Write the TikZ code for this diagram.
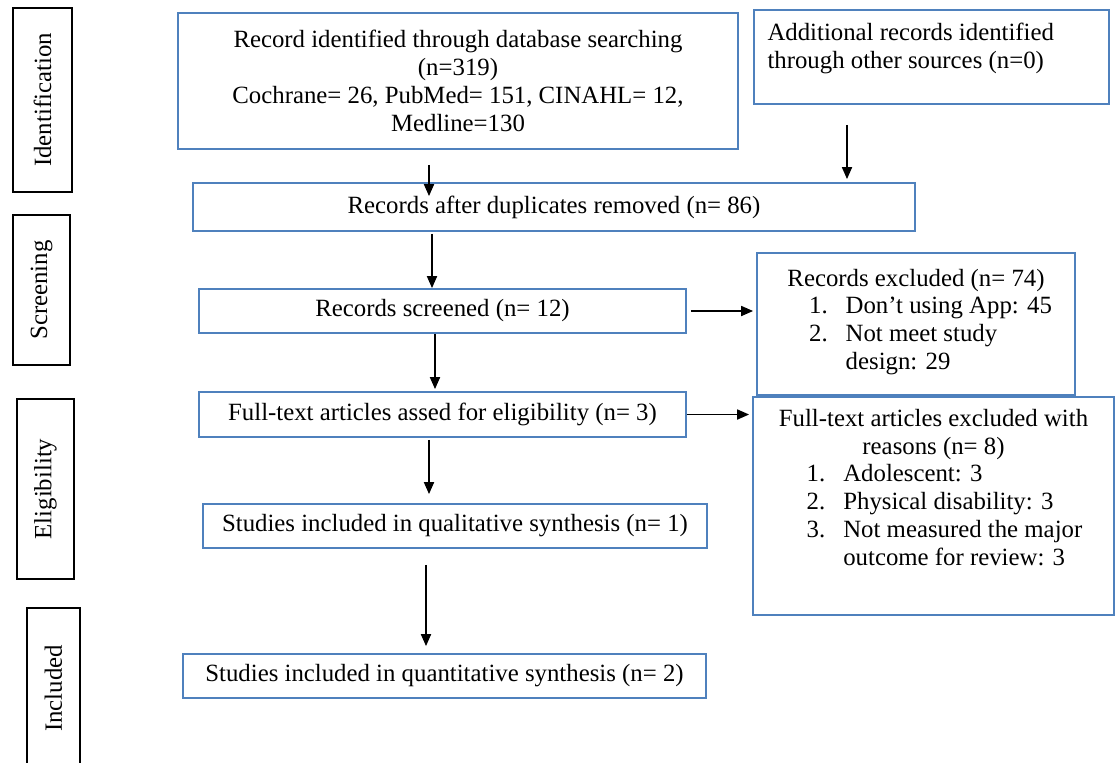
\documentclass[tikz,border=0pt]{standalone}
\usepackage{fontspec}
\setmainfont{Liberation Serif}
\usetikzlibrary{arrows.meta}
\definecolor{boxblue}{RGB}{79,129,189}

\begin{document}
\begin{tikzpicture}[x=0.5pt,y=-0.5pt,
    every node/.style={font=\fontsize{12.4}{14}\selectfont},
    box/.style={draw=boxblue,line width=0.9pt,align=center,inner sep=0pt},
    phase/.style={draw=black,line width=0.9pt,rotate=90,inner sep=0pt},
    arr/.style={line width=0.9pt,-{Triangle[length=6pt,width=5pt]}}]
\useasboundingbox (0,0) rectangle (1117,762);

\node[phase,minimum width=92pt,minimum height=29.5pt] (ident) at (42.5,100) {Identification};
\node[phase,minimum width=75pt,minimum height=28.5pt] (screen) at (41.5,290) {Screening};
\node[phase,minimum width=90pt,minimum height=28.5pt] (elig) at (45.5,489) {Eligibility};
\node[phase,minimum width=80.5pt,minimum height=26.5pt] (incl) at (53.5,688.5) {Included};

\node[box,minimum width=280pt,minimum height=68pt] (db) at (458,81)
  {Record identified through database searching\\(n=319)\\Cochrane= 26, PubMed= 151, CINAHL= 12,\\Medline=130};
\node[box,minimum width=177.5pt,minimum height=47pt] (other) at (931.5,57) {};
\node[anchor=north west,align=left,inner sep=0pt] (othertxt) at ([xshift=7pt,yshift=-7pt]other.north west)
  {Additional records identified\\through other sources (n=0)};
\node[box,minimum width=361pt,minimum height=24pt] (dup) at (554,207) {Records after duplicates removed (n= 86)};
\node[box,minimum width=243.5pt,minimum height=22pt] (screened) at (442.5,311) {Records screened (n= 12)};
\node[box,minimum width=243.5pt,minimum height=22.5pt] (full) at (442.5,414.5) {Full-text articles assed for eligibility (n= 3)};
\node[box,minimum width=252pt,minimum height=22pt] (qual) at (455,526) {Studies included in qualitative synthesis (n= 1)};
\node[box,minimum width=261.5pt,minimum height=22pt] (quant) at (444.5,676) {Studies included in quantitative synthesis (n= 2)};

\node[box,minimum width=159pt,minimum height=71pt] (excl) at (916,324)
  {Records excluded (n= 74)\\\hspace*{14.5pt}\begin{tabular}[b]{@{}l@{\hspace{9pt}}l@{}}1. & Don’t using App: 45\\2. & Not meet study\\ & design: 29\end{tabular}};
\node[box,minimum width=180.5pt,minimum height=109pt] (ftexcl) at (933.5,506) {};
\node[anchor=north,align=center,inner sep=0pt] (ftexcltxt) at ([yshift=-6.4pt]ftexcl.north)
  {Full-text articles excluded with\\reasons (n= 8)\\\hspace*{11pt}\begin{tabular}[b]{@{}l@{\hspace{9pt}}l@{}}1. & Adolescent: 3\\2. & Physical disability: 3\\3. & Not measured the major\\ & outcome for review: 3\end{tabular}};

\coordinate (s1) at ([xshift=-14.5pt,yshift=-7.5pt]db.south);
\draw[arr] (s1) -- ([yshift=-7pt]s1 |- dup.north);
\coordinate (s2) at ([xshift=-42.25pt,yshift=-10pt]other.south);
\draw[arr] (s2) -- ([yshift=1.5pt]s2 |- dup.north);
\coordinate (s3) at ([xshift=-61pt,yshift=-1pt]dup.south);
\draw[arr] (s3) -- (s3 |- screened.north);
\coordinate (s4) at ([xshift=-3.75pt]screened.south);
\draw[arr] (s4) -- ([yshift=1pt]s4 |- full.north);
\coordinate (s5) at ([xshift=-6.75pt,yshift=-1pt]full.south);
\draw[arr] (s5) -- ([yshift=4.5pt]s5 |- qual.north);
\coordinate (s6) at ([xshift=-14.5pt,yshift=-8pt]qual.south);
\draw[arr] (s6) -- ([yshift=3.5pt]s6 |- quant.north);
\draw[arr] ([xshift=2pt]screened.east) -- ([xshift=-1.5pt]screened.east -| excl.west);
\draw[arr] (full.east) -- ([xshift=-1.5pt]full.east -| ftexcl.west);
\end{tikzpicture}
\end{document}
